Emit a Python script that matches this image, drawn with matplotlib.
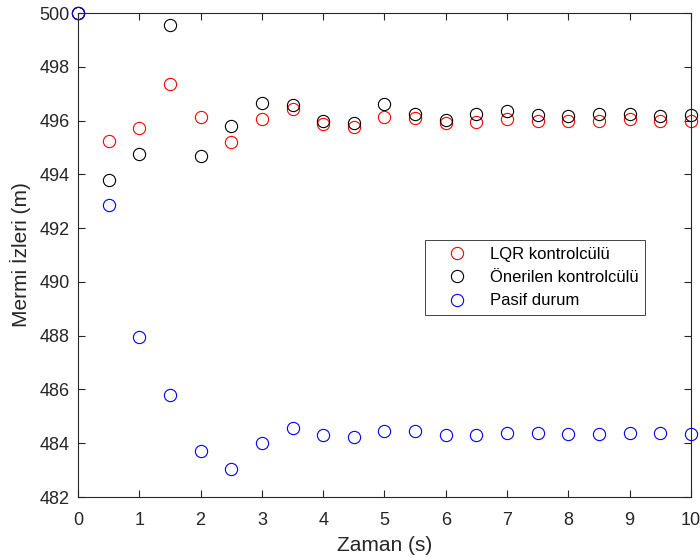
import matplotlib.pyplot as plt

plt.rcParams['font.family'] = ['Liberation Sans', 'DejaVu Sans']

# Time samples (s)
t = [0, 0.5, 1, 1.5, 2, 2.5, 3, 3.5, 4, 4.5, 5, 5.5, 6, 6.5, 7, 7.5, 8, 8.5, 9, 9.5, 10]

# Trajectory values (m)
lqr = [500, 495.24, 495.73, 497.36, 496.13, 495.20, 496.06, 496.43, 495.87, 495.76, 496.13,
       496.10, 495.90, 495.95, 496.06, 496.00, 495.98, 496.00, 496.05, 496.00, 495.98]
proposed = [500, 493.80, 494.76, 499.55, 494.69, 495.80, 496.65, 496.58, 495.98, 495.90, 496.62,
            496.25, 496.02, 496.25, 496.35, 496.22, 496.18, 496.25, 496.25, 496.18, 496.22]
passive = [500, 492.86, 487.96, 485.80, 483.72, 483.05, 484.01, 484.57, 484.31, 484.24, 484.46,
           484.46, 484.31, 484.31, 484.39, 484.39, 484.35, 484.35, 484.39, 484.39, 484.35]

fig = plt.figure(figsize=(7, 5.58), dpi=100)
ax = fig.add_axes([0.1114, 0.1093, 0.8757, 0.8674])

style = dict(linestyle='none', marker='o', markersize=8.8, markerfacecolor='none',
             markeredgewidth=0.8, clip_on=False)
ax.plot(t, lqr, color='#ff0000', label='LQR kontrolcülü', **style)
ax.plot(t, proposed, color='black', label='Önerilen kontrolcülü', **style)
ax.plot(t, passive, color='#0000ff', label='Pasif durum', **style)

ax.set_xlim(0, 10)
ax.set_ylim(482, 500)
ax.set_xticks(range(0, 11))
ax.set_yticks(range(482, 501, 2))
ax.tick_params(direction='in', top=True, right=True, labelsize=13, length=5, width=0.8,
               colors='#262626')
ax.tick_params(axis='x', pad=11)
ax.tick_params(axis='y', pad=6)
for s in ax.spines.values():
    s.set_linewidth(0.8)
    s.set_color('#262626')

ax.set_xlabel('Zaman (s)', fontsize=15, color='#262626', labelpad=5)
ax.set_ylabel('Mermi İzleri (m)', fontsize=15, color='#262626', labelpad=6)

leg = ax.legend(loc='upper left', bbox_to_anchor=(0.566, 0.531), borderaxespad=0,
                fontsize=12, fancybox=False, edgecolor='#262626', framealpha=1,
                handlelength=3.0, handletextpad=0.5, borderpad=0.4, labelspacing=0.5)
leg.get_frame().set_linewidth(0.6)

fig.savefig('out.png', dpi=100)
